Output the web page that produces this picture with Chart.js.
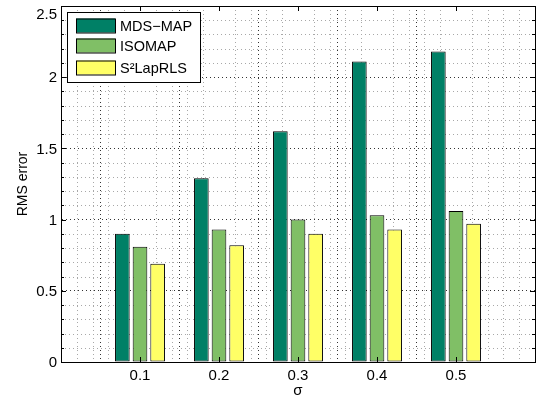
<!DOCTYPE html>
<html>
<head>
<meta charset="utf-8">
<script src="https://cdn.jsdelivr.net/npm/chart.js@4/dist/chart.umd.min.js"></script>
<style>
  body { margin: 0; background: #fff; }
  canvas { display: block; }
</style>
</head>
<body>
<canvas id="myChart" width="541" height="401"></canvas>
<script>
const categories = ['0.1', '0.2', '0.3', '0.4', '0.5']
const mdsMap = [0.90, 1.29, 1.62, 2.11, 2.18]
const isomap = [0.81, 0.93, 1.00, 1.03, 1.06]
const lapRLS = [0.69, 0.82, 0.90, 0.93, 0.97]
const yTicks = [0, 0.5, 1, 1.5, 2, 2.5]

const FONT = 'Liberation Sans, Arial, Helvetica, sans-serif'

// xlim is [0 6] like the matlab figure, so pad the categories with empty slots
const labels = [''].concat(categories, [''])
function pad(arr) {
    return [null].concat(arr, [null])
}

function series(label, color, values) {
    return {
        label: label,
        backgroundColor: color,
        borderColor: '#000',
        borderWidth: 1,
        borderSkipped: false,
        categoryPercentage: 0.67,
        barPercentage: 0.83,
        data: pad(values),
    }
}

const data = {
    labels: labels,
    datasets: [
        series('MDS\u2212MAP', 'rgb(0, 128, 102)', mdsMap),
        series('ISOMAP', 'rgb(128, 191, 102)', isomap),
        series('S\u00b2LapRLS', 'rgb(255, 255, 102)', lapRLS),
    ]
}

const matlabAxes = {
    id: 'matlabAxes',
    beforeDatasetsDraw(chart) {
        const ctx = chart.ctx
        const a = chart.chartArea
        const x = chart.scales.x
        const y = chart.scales.y
        ctx.save()
        ctx.strokeStyle = '#a8a8a8'
        ctx.lineWidth = 1
        ctx.setLineDash([1, 3])
        ctx.beginPath()
        for (let i = 1; i < 25; i++) {
            if (i % 5 === 0) continue
            const py = Math.round(y.getPixelForValue(i / 10)) + 0.5
            ctx.moveTo(a.left, py)
            ctx.lineTo(a.right, py)
        }
        for (let i = 1; i < 30; i++) {
            if (i % 5 === 0) continue
            const px = Math.round(x.getPixelForValue(i / 5)) + 0.5
            ctx.moveTo(px, a.top)
            ctx.lineTo(px, a.bottom)
        }
        ctx.stroke()
        ctx.restore()
    },
    afterDraw(chart) {
        const ctx = chart.ctx
        const a = chart.chartArea
        const x = chart.scales.x
        const y = chart.scales.y
        ctx.save()
        ctx.strokeStyle = '#000'
        ctx.lineWidth = 1
        ctx.beginPath()
        // inward ticks
        for (let i = 0; i <= 25; i++) {
            const py = Math.round(y.getPixelForValue(i / 10)) + 0.5
            const len = i % 5 === 0 ? 5 : 3
            ctx.moveTo(a.left, py); ctx.lineTo(a.left + len, py)
            ctx.moveTo(a.right, py); ctx.lineTo(a.right - len, py)
        }
        for (let i = 1; i <= categories.length; i++) {
            const px = Math.round(x.getPixelForValue(i)) + 0.5
            ctx.moveTo(px, a.bottom); ctx.lineTo(px, a.bottom - 5)
            ctx.moveTo(px, a.top); ctx.lineTo(px, a.top + 5)
        }
        ctx.stroke()
        ctx.strokeRect(Math.round(a.left) + 0.5, Math.round(a.top) + 0.5,
            Math.round(a.right - a.left), Math.round(a.bottom - a.top))

        // y tick labels, top one kept inside the figure like matlab does
        ctx.fillStyle = '#000'
        ctx.font = '15px ' + FONT
        ctx.textAlign = 'right'
        ctx.textBaseline = 'middle'
        yTicks.forEach(v => {
            const py = Math.max(y.getPixelForValue(v), a.top + 8)
            ctx.fillText(String(v), a.left - 4, py + 1)
        })

        // legend box inside the axes
        const lx = a.left + 6, ly = a.top + 6
        ctx.fillStyle = '#fff'
        ctx.fillRect(lx, ly, 133, 70)
        ctx.strokeRect(lx + 0.5, ly + 0.5, 133, 70)
        const rows = [13.5, 33.5, 55.5]
        ctx.font = '14.5px ' + FONT
        ctx.textAlign = 'left'
        chart.data.datasets.forEach((ds, i) => {
            const cy = ly + rows[i]
            ctx.fillStyle = ds.backgroundColor
            ctx.fillRect(lx + 9, cy - 7, 39, 14)
            ctx.strokeRect(lx + 9.5, cy - 6.5, 39, 14)
            ctx.fillStyle = '#000'
            ctx.fillText(ds.label, lx + 53, cy + 1)
        })
        ctx.restore()
    }
}

const config = {
    type: 'bar',
    data: data,
    options: {
        responsive: false,
        animation: false,
        layout: { padding: { top: 6, right: 6 } },
        plugins: {
            legend: { display: false },
            tooltip: { enabled: false },
        },
        scales: {
            x: {
                offset: false,
                grid: {
                    drawTicks: false,
                    color: ctx => (ctx.index === 0 || ctx.index === labels.length - 1) ? 'rgba(0,0,0,0)' : '#333',
                },
                border: { display: true, color: '#000', dash: [1, 3] },
                ticks: {
                    color: '#000',
                    font: { family: FONT, size: 15 },
                    padding: 5,
                    maxRotation: 0,
                    autoSkip: false,
                },
                title: {
                    display: true,
                    text: '\u03c3',
                    color: '#000',
                    font: { family: FONT, size: 15 },
                    padding: { top: 0, bottom: 1 },
                },
                afterFit: s => {
                    s.height = 39
                    s.paddingLeft = 0
                    s.paddingRight = 0
                },
            },
            y: {
                min: 0,
                max: 2.5,
                afterBuildTicks: s => {
                    s.ticks = yTicks.map(v => ({ value: v }))
                },
                grid: {
                    drawTicks: false,
                    color: ctx => (ctx.index === 0 || ctx.index === yTicks.length - 1) ? 'rgba(0,0,0,0)' : '#333',
                },
                border: { display: true, color: '#000', dash: [1, 3] },
                ticks: { display: false },
                title: {
                    display: true,
                    text: 'RMS error',
                    color: '#000',
                    font: { family: FONT, size: 14 },
                    padding: { top: 15, bottom: 0 },
                },
                afterFit: s => {
                    s.width = 61
                    s.paddingTop = 0
                    s.paddingBottom = 0
                },
            }
        }
    },
    plugins: [matlabAxes]
}

const myChart = new Chart(
    document.getElementById('myChart'),
    config
)
</script>
</body>
</html>
